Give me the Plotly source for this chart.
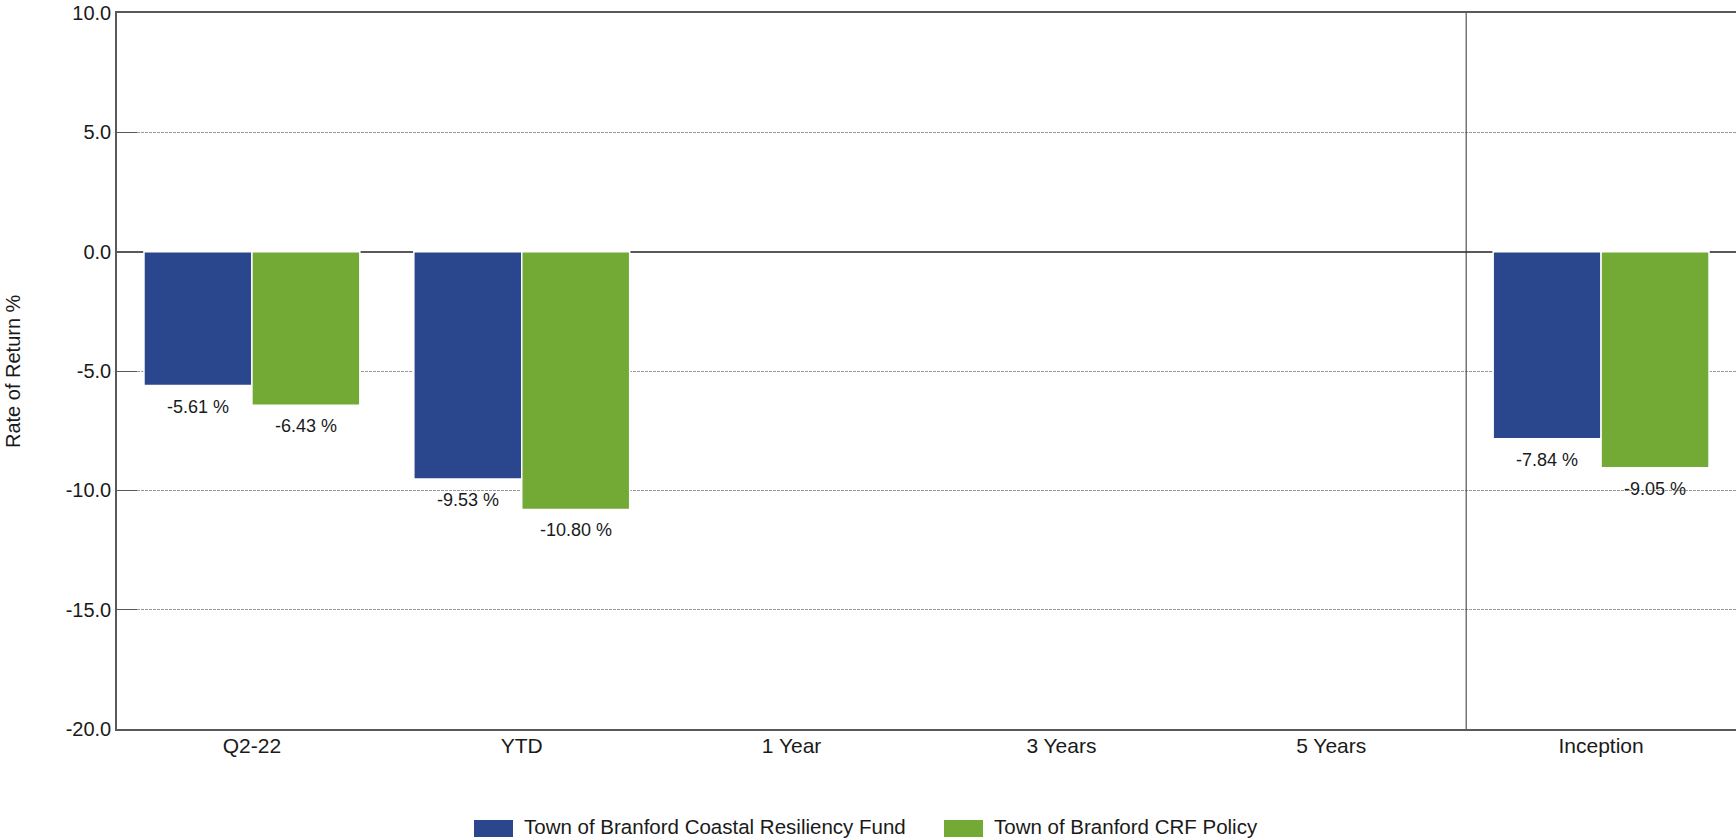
import plotly.graph_objects as go

# ---- data ----
categories = ["Q2-22", "YTD", "1 Year", "3 Years", "5 Years", "Inception"]
fund_name = "Town of Branford Coastal Resiliency Fund"
policy_name = "Town of Branford CRF Policy"
fund_values = [-5.61, -9.53, None, None, None, -7.84]
policy_values = [-6.43, -10.80, None, None, None, -9.05]
y_ticks = [10, 5, 0, -5, -10, -15, -20]
y_tick_text = ["10.0", "5.0", "0.0", "-5.0", "-10.0", "-15.0", "-20.0"]

# ---- layout constants ----
W, H = 1736, 840
L, R, T, B = 117, 0, 13, 111
plot_w = W - L - R
plot_h = H - T - B
BARGAP = 0.2
BLUE = "#2A468C"
GREEN = "#73A935"
AXIS = "#595959"
ARIAL = "Liberation Sans, Arial, sans-serif"


def px_x(px):
    return (px - L) / plot_w


def px_y(py):
    return (H - B - py) / plot_h


fig = go.Figure()
for name, vals, col in [(fund_name, fund_values, BLUE), (policy_name, policy_values, GREEN)]:
    fig.add_trace(go.Bar(
        x=categories, y=vals, name=name,
        marker=dict(color=col, line=dict(color="white", width=1.5)),
        showlegend=False, hoverinfo="x+y",
    ))

# value labels below bars
cat_w = plot_w / len(categories)
bar_off = cat_w * (1 - BARGAP) / 4
annotations = []
for sign, vals in [(-1, fund_values), (1, policy_values)]:
    for c, v in zip(categories, vals):
        if v is None:
            continue
        annotations.append(dict(
            x=c, y=v, xref="x", yref="y", text=f"{v:.2f} %", showarrow=False,
            xshift=sign * bar_off, yshift=-9, yanchor="top", xanchor="center",
            font=dict(family=ARIAL, size=18, color="#1a1a1a"),
        ))

# y-axis title
annotations.append(dict(
    x=px_x(13), y=0.5, xref="paper", yref="paper", text="Rate of Return %",
    textangle=-90, showarrow=False, xanchor="center", yanchor="middle",
    font=dict(family=ARIAL, size=20, color="#1a1a1a"),
))

# custom legend
shapes = []
legend_items = [(fund_name, BLUE, 474), (policy_name, GREEN, 944)]
for name, col, x0 in legend_items:
    shapes.append(dict(type="rect", xref="paper", yref="paper",
                       x0=px_x(x0), x1=px_x(x0 + 39), y0=px_y(837), y1=px_y(820),
                       fillcolor=col, line=dict(width=0)))
    annotations.append(dict(
        x=px_x(x0 + 49), y=px_y(826), xref="paper", yref="paper", text=name,
        showarrow=False, xanchor="left", yanchor="middle", borderpad=0,
        font=dict(family=ARIAL, size=20.5, color="#1a1a1a"),
    ))

# separator before Inception
shapes.append(dict(type="line", xref="x", yref="paper", x0=4.5, x1=4.5, y0=0, y1=1,
                   line=dict(color="#333333", width=1)))

fig.update_layout(
    width=W, height=H,
    margin=dict(l=L, r=R, t=T, b=B, pad=0),
    paper_bgcolor="white", plot_bgcolor="white",
    barmode="group", bargap=BARGAP, bargroupgap=0,
    annotations=annotations, shapes=shapes,
    showlegend=False,
    xaxis=dict(
        type="category", categoryorder="array", categoryarray=categories,
        range=[-0.5, len(categories) - 0.5],
        showline=True, linecolor=AXIS, linewidth=1.5, mirror=True,
        ticks="", showgrid=False, zeroline=False,
        tickfont=dict(family=ARIAL, size=21, color="#1a1a1a"),
        ticklabelstandoff=-3,
    ),
    yaxis=dict(
        range=[-20, 10], tickvals=y_ticks, ticktext=y_tick_text,
        ticks="inside", ticklen=20, tickcolor=AXIS, tickwidth=1,
        showline=True, linecolor=AXIS, linewidth=1.5,
        showgrid=True, gridcolor="#9a9a9a", gridwidth=1, griddash="3px,1px",
        zeroline=True, zerolinecolor=AXIS, zerolinewidth=1.5,
        tickfont=dict(family=ARIAL, size=20, color="#1a1a1a"),
        title=None,
    ),
)

fig.write_html(
    "out.html",
    config={"displayModeBar": False},
    post_script="document.body.style.margin='0px';document.body.style.overflow='hidden';",
)
